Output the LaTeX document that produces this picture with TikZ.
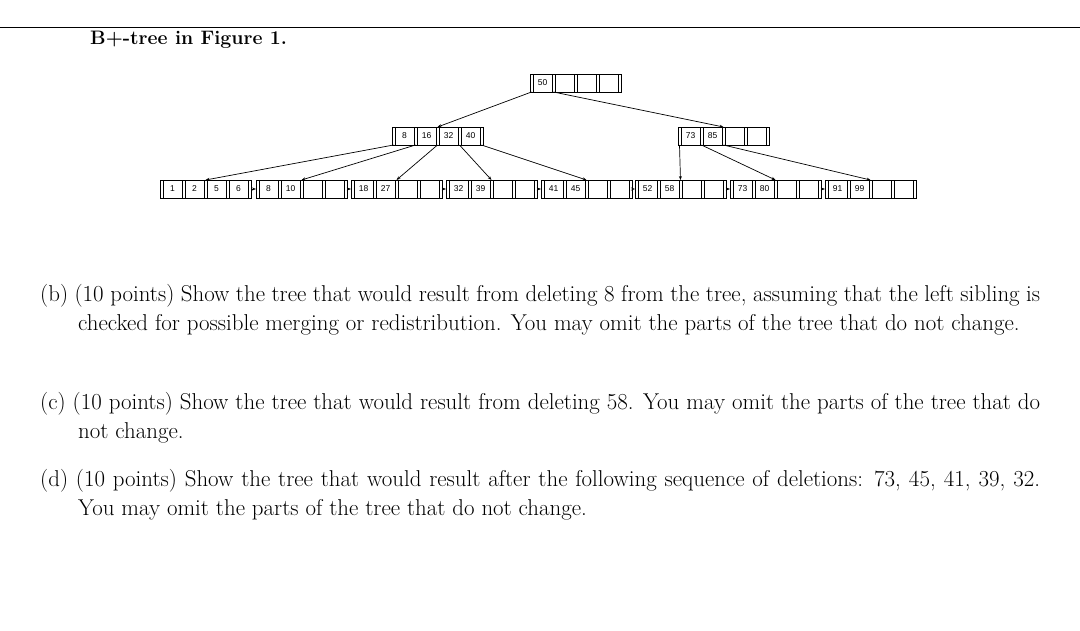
\documentclass[tikz,border=0pt]{standalone}
\usepackage{fontspec}
\setsansfont{Liberation Sans}
\usetikzlibrary{arrows.meta}
\tikzset{x=1pt,y=-1pt,
 bbox/.style={draw,line width=0.8pt,minimum width=91pt,minimum height=18pt,inner sep=0pt,anchor=north west},
 ptr/.style={-{Stealth[length=4pt,width=3pt]},line width=0.7pt},
 keyt/.style={font=\sffamily\fontsize{8.5}{9}\selectfont,inner sep=0pt},
 para/.style={anchor=north west,inner sep=0pt,font=\fontsize{22.9}{29}\selectfont}}
\newcommand{\bnode}[4]{%
 \node[bbox] (#1) at (#2,#3) {};
 \foreach \k [count=\i from 0] in {#4} {
   \draw[line width=0.7pt] (#2+\i*22+3,#3) -- (#2+\i*22+3,#3+18);
   \draw[line width=0.7pt] (#2+\i*22+22,#3) -- (#2+\i*22+22,#3+18);
   \node[keyt] at (#2+\i*22+12.5,#3+9) {\k};
 }
 \foreach \i in {0,...,4} {
   \coordinate (#1-p\i) at (#2+\i*22+1.5,#3+18);
   \coordinate (#1-t\i) at (#2+\i*22+1.5,#3);
 }
 \coordinate (#1-w) at (#2,#3+9);
 \coordinate (#1-e) at (#2+91,#3+9);
}
\newcommand{\hpar}[1]{\parbox[t]{1000pt}{\hangindent=38pt\hangafter=1\noindent #1}}
\begin{document}
\begin{tikzpicture}
\useasboundingbox (0,0) rectangle (1080,630);
\draw[line width=0.6pt] (0,27) -- (1080,27);
\node[anchor=base west,inner sep=0pt,font=\bfseries\fontsize{19.5}{24}\selectfont] (title) at (90,44) {B+-tree in Figure 1.};
\bnode{R}{530}{74}{50,,,}
\bnode{A}{392}{127}{8,16,32,40}
\bnode{B}{678}{127}{73,85,,}
\bnode{L1}{160}{180}{1,2,5,6}
\bnode{L2}{256}{180}{8,10,,}
\bnode{L3}{351}{180}{18,27,,}
\bnode{L4}{446}{180}{32,39,,}
\bnode{L5}{541}{180}{41,45,,}
\bnode{L6}{635}{180}{52,58,,}
\bnode{L7}{730}{180}{73,80,,}
\bnode{L8}{825}{180}{91,99,,}
\draw[ptr] (R-p0) -- (A-t2);
\draw[ptr] (R-p1) -- (B-t2);
\draw[ptr] (A-p0) -- (L1-t2);
\draw[ptr] (A-p1) -- (L2-t2);
\draw[ptr] (A-p2) -- (L3-t2);
\draw[ptr] (A-p3) -- (L4-t2);
\draw[ptr] (A-p4) -- (L5-t2);
\draw[ptr] (B-p0) -- (L6-t2);
\draw[ptr] (B-p1) -- (L7-t2);
\draw[ptr] (B-p2) -- (L8-t2);
\foreach \a/\b in {L1/L2,L2/L3,L3/L4,L4/L5,L5/L6,L6/L7,L7/L8}
  \draw[ptr] (\a-e) -- (\b-w);
\node[para] (pb) at (40,284) {\hpar{(b) (10 points) Show the tree that would result from deleting 8 from the tree, assuming that the left sibling is checked for possible merging or redistribution. You may omit the parts of the tree that do not change.}};
\node[para] (pc) at (40,392) {\hpar{(c) (10 points) Show the tree that would result from deleting 58. You may omit the parts of the tree that do not change.}};
\node[para] (pd) at (40,469) {\hpar{(d) (10 points) Show the tree that would result after the following sequence of deletions: 73, 45, 41, 39, 32. You may omit the parts of the tree that do not change.}};
\end{tikzpicture}
\end{document}
